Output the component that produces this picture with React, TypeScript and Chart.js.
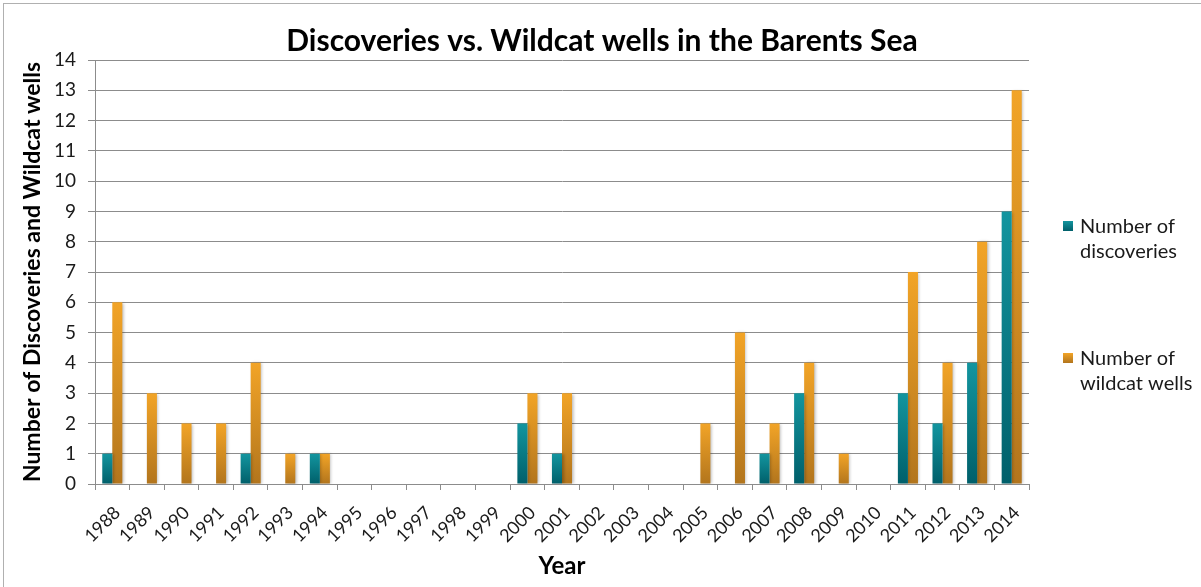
import React, { useEffect, useRef } from "react";
import { Chart, registerables } from "chart.js";

Chart.register(...registerables);

const YEARS = [
  "1988", "1989", "1990", "1991", "1992", "1993", "1994", "1995", "1996",
  "1997", "1998", "1999", "2000", "2001", "2002", "2003", "2004", "2005",
  "2006", "2007", "2008", "2009", "2010", "2011", "2012", "2013", "2014",
];
const DISCOVERIES = [1, 0, 0, 0, 1, 0, 1, 0, 0, 0, 0, 0, 2, 1, 0, 0, 0, 0, 0, 1, 3, 0, 0, 3, 2, 4, 9];
const WILDCAT_WELLS = [6, 3, 2, 2, 4, 1, 1, 0, 0, 0, 0, 0, 3, 3, 0, 0, 0, 2, 5, 2, 4, 1, 0, 7, 4, 8, 13];
const SERIES_LABELS = ["Number of discoveries", "Number of wildcat wells"];
const TITLE = "Discoveries vs. Wildcat wells in the Barents Sea";
const X_TITLE = "Year";
const Y_TITLE = "Number of Discoveries and Wildcat wells";
const Y_MAX = 14;

const FONT = "Lato, 'Liberation Sans', sans-serif";
const GRADS = [
  { top: "#13959f", bottom: "#005f6a" },
  { top: "#f2a427", bottom: "#b2751d" },
];

function barFill(idx: number) {
  return (c: any) => {
    const chart = c.chart;
    const g = GRADS[idx];
    const ys = chart.scales && chart.scales.y;
    if (!ys || typeof c.raw !== "number") return g.top;
    const t = ys.getPixelForValue(c.raw);
    const b = ys.getPixelForValue(0);
    if (!isFinite(t) || !isFinite(b) || b - t < 1) return g.top;
    const grad = chart.ctx.createLinearGradient(0, t, 0, b);
    grad.addColorStop(0, g.top);
    grad.addColorStop(1, g.bottom);
    return grad;
  };
}

const decorPlugin = {
  id: "decor",
  beforeDatasetsDraw(chart: any) {
    const ctx = chart.ctx;
    ctx.save();
    ctx.shadowColor = "rgba(0,0,0,0.28)";
    ctx.shadowBlur = 3;
    ctx.shadowOffsetX = 1.5;
    ctx.shadowOffsetY = 0.5;
  },
  afterDatasetsDraw(chart: any) {
    chart.ctx.restore();
  },
  afterDraw(chart: any) {
    const ctx = chart.ctx;
    ctx.save();
    ctx.strokeStyle = "#b0b0b0";
    ctx.lineWidth = 1;
    ctx.strokeRect(3.5, 3.5, 1400, 800);
    // title
    ctx.font = `bold 30px ${FONT}`;
    ctx.fillStyle = "#000";
    ctx.textAlign = "center";
    ctx.textBaseline = "middle";
    ctx.fillText(TITLE, 602, 41);
    // legend
    const items = [{ y: 226 }, { y: 358 }];
    ctx.font = `20px ${FONT}`;
    ctx.textBaseline = "middle";
    ctx.textAlign = "left";
    chart.data.datasets.forEach((ds: any, i: number) => {
      const y = items[i].y;
      const g = GRADS[i];
      const grad = ctx.createLinearGradient(0, y - 5, 0, y + 5);
      grad.addColorStop(0, g.top);
      grad.addColorStop(1, g.bottom);
      ctx.fillStyle = grad;
      ctx.fillRect(1063, y - 5, 10, 10);
      const words = String(ds.label).split(" ");
      const lines = [words.slice(0, 2).join(" "), words.slice(2).join(" ")];
      ctx.fillStyle = "#1a1a1a";
      lines.forEach((ln, k) => ctx.fillText(ln, 1080, y + 1 + k * 25));
    });
    ctx.restore();
  },
};

export default function App() {
  const ref = useRef<HTMLCanvasElement | null>(null);
  useEffect(() => {
    if (!ref.current) return;
    Chart.defaults.font.family = FONT;
    const chart = new Chart(ref.current, {
      type: "bar",
      data: {
        labels: YEARS,
        datasets: [
          {
            label: SERIES_LABELS[0],
            data: DISCOVERIES,
            backgroundColor: barFill(0),
            borderWidth: 0,
            categoryPercentage: 0.58,
            barPercentage: 1,
          },
          {
            label: SERIES_LABELS[1],
            data: WILDCAT_WELLS,
            backgroundColor: barFill(1),
            borderWidth: 0,
            categoryPercentage: 0.58,
            barPercentage: 1,
          },
        ],
      },
      options: {
        animation: false,
        responsive: false,
        devicePixelRatio: 1,
        layout: { padding: { top: 60, left: 0, right: 172, bottom: 0 } },
        plugins: {
          legend: { display: false },
          tooltip: { enabled: false },
          title: { display: false },
        },
        scales: {
          x: {
            grid: {
              offset: true,
              drawOnChartArea: false,
              drawTicks: true,
              tickLength: 6,
              color: "#8c8c8c",
            },
            border: { color: "#8c8c8c" },
            ticks: {
              autoSkip: false,
              minRotation: 45,
              maxRotation: 45,
              color: "#1a1a1a",
              font: { size: 18 },
              padding: 12,
              labelOffset: 5,
            },
            title: {
              display: true,
              text: X_TITLE,
              color: "#000",
              font: { size: 24, weight: "bold" },
              padding: { top: 0, bottom: 6 },
            },
            afterFit(scale: any) {
              scale.height = 103;
            },
          },
          y: {
            min: 0,
            max: Y_MAX,
            ticks: {
              stepSize: 1,
              color: "#1a1a1a",
              font: { size: 19 },
              padding: 12,
            },
            grid: { color: "#8c8c8c", tickLength: 7 },
            border: { color: "#8c8c8c" },
            title: {
              display: true,
              text: Y_TITLE,
              color: "#000",
              font: { size: 23, weight: "bold" },
              padding: { top: 19, bottom: 0 },
            },
            afterFit(scale: any) {
              scale.width = 95;
            },
          },
        },
      },
      plugins: [decorPlugin],
    });
    return () => chart.destroy();
  }, []);
  return (
    <div style={{ position: "absolute", left: 0, top: 0, width: 1201, height: 587, background: "#fff" }}>
      <canvas ref={ref} width={1201} height={587} />
    </div>
  );
}
